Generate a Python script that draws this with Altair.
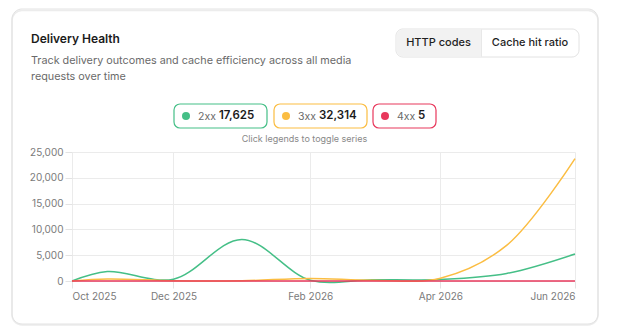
import altair as alt
import pandas as pd

# ---------------- data ----------------
dates = ["2025-10-16", "2025-11-01", "2025-12-01", "2026-01-01", "2026-02-01",
         "2026-03-01", "2026-04-01", "2026-05-01", "2026-06-01"]
series_names = ["2xx", "3xx", "4xx"]
values_2xx = [0, 1850, 350, 8050, 150, 250, 300, 1450, 5225]
values_3xx = [0, 400, 50, 50, 500, 150, 550, 6900, 23714]
values_4xx = [0, 1, 0, 1, 1, 0, 1, 0, 1]
y_ticks = [0, 5000, 10000, 15000, 20000, 25000]

title_text = "Delivery Health"
subtitle_lines = ["Track delivery outcomes and cache efficiency across all media",
                  "requests over time"]
toggle_labels = ["HTTP codes", "Cache hit ratio"]
caption_text = "Click legends to toggle series"

# ---------------- styles / layout ----------------
colors = ["#45bf87", "#fbbd42", "#e8385c"]
FONT = "Inter"
OX, OY = 72, 152           # plot origin in page pixels
W, H = 503, 129            # plot size

all_values = [values_2xx, values_3xx, values_4xx]
rows = []
for name, vals in zip(series_names, all_values):
    for d, v in zip(dates, vals):
        rows.append({"date": d, "series": name, "value": v})
df = pd.DataFrame(rows)

one = pd.DataFrame({"k": [0]})


def rect(x0, x1, y0, y1, **kw):
    return alt.Chart(one).mark_rect(**kw).encode(
        x=alt.value(x0 - OX), x2=alt.value(x1 - OX),
        y=alt.value(y0 - OY), y2=alt.value(y1 - OY))


def text(t, x, y, **kw):
    base = dict(font=FONT, baseline="middle", align="left")
    base.update(kw)
    return alt.Chart(one).mark_text(text=t, **base).encode(
        x=alt.value(x - OX), y=alt.value(y - OY))


def dot(x, y, color, size):
    return alt.Chart(one).mark_circle(color=color, size=size, opacity=1).encode(
        x=alt.value(x - OX), y=alt.value(y - OY))


layers = []
# card shadow + card (outline only so the axes/grid below stay visible)
layers.append(rect(12, 598, 10.5, 325, fill="transparent", stroke="#ececec", strokeWidth=1.5, cornerRadius=10))
layers.append(rect(12, 598, 9, 324, fill="transparent", stroke="#e2e2e2", strokeWidth=1, cornerRadius=10))

# title / subtitle
layers.append(text(title_text, 31, 38.5, fontSize=12, fontWeight=600, color="#1b1b1b"))
layers.append(text(subtitle_lines[0], 31, 60.5, fontSize=10.8, color="#6a6a6a"))
layers.append(text(subtitle_lines[1], 31, 76.5, fontSize=10.8, color="#6a6a6a"))

# toggle buttons
layers.append(rect(396, 579, 29, 57, fill="white", stroke="#e2e2e2", strokeWidth=1, cornerRadius=7))
layers.append(rect(396.5, 481, 29.5, 56.5, fill="#f2f2f2", cornerRadiusTopLeft=7, cornerRadiusBottomLeft=7))
layers.append(rect(481, 481.8, 29.5, 56.5, fill="#e2e2e2"))
layers.append(text(toggle_labels[0], 438.5, 43, align="center", fontSize=11, fontWeight=500, color="#1f1f1f"))
layers.append(text(toggle_labels[1], 530, 43, align="center", fontSize=11, fontWeight=500, color="#1f1f1f"))

# legend pills
pill_x = [(174, 267), (274, 367), (373, 436)]
for i, name in enumerate(series_names):
    x0, x1 = pill_x[i]
    total = f"{sum(all_values[i]):,}"
    layers.append(rect(x0, x1, 104, 128, fill="white", stroke=colors[i], strokeWidth=1.2, cornerRadius=6))
    layers.append(dot(x0 + 12, 116, colors[i], 64))
    layers.append(text(name, x0 + 24, 116.5, fontSize=10.5, color="#6a6a6a"))
    layers.append(text(total, x0 + 45, 116, fontSize=11.5, fontWeight=600, color="#1b1b1b"))

layers.append(text(caption_text, 304.5, 138.5, align="center", fontSize=9, color="#888888"))

# main chart
x_vals = [alt.DateTime(year=2025, month=10, date=16, utc=True),
          alt.DateTime(year=2025, month=12, date=1, utc=True),
          alt.DateTime(year=2026, month=2, date=1, utc=True),
          alt.DateTime(year=2026, month=4, date=1, utc=True),
          alt.DateTime(year=2026, month=6, date=1, utc=True)]

lines = alt.Chart(df).mark_line(interpolate="catmull-rom", strokeWidth=1.5).encode(
    x=alt.X("date:T",
            scale=alt.Scale(type="utc", domain=[x_vals[0], x_vals[-1]]),
            axis=alt.Axis(values=x_vals, labelExpr="utcFormat(datum.value, '%b %Y')",
                          title=None, grid=True, gridColor="#ebebeb", domain=False,
                          tickColor="#e3e3e3", tickSize=7, labelPadding=3,
                          labelFont=FONT, labelFontSize=10, labelColor="#7a7a7a",
                          labelFlush=True, labelOverlap=False)),
    y=alt.Y("value:Q",
            scale=alt.Scale(domain=[0, 25000], nice=False),
            axis=alt.Axis(values=y_ticks, labelExpr="format(datum.value, ',')",
                          title=None, grid=True,
                          gridColor="#ebebeb", domain=False, tickColor="#e3e3e3",
                          tickSize=7, labelPadding=2, labelFont=FONT,
                          labelFontSize=10, labelColor="#7a7a7a")),
    color=alt.Color("series:N", scale=alt.Scale(domain=series_names, range=colors), legend=None),
    order=alt.Order("series:N"),
)
layers.append(lines)

chart = alt.layer(*layers).properties(
    width=W, height=H,
    padding={"left": OX, "top": OY, "right": 617 - OX - W, "bottom": 335 - OY - H},
    autosize=alt.AutoSizeParams(type="none"),
    background="white",
).configure_view(stroke=None)

chart.save("out.html", embed_options={"renderer": "svg", "actions": False})
